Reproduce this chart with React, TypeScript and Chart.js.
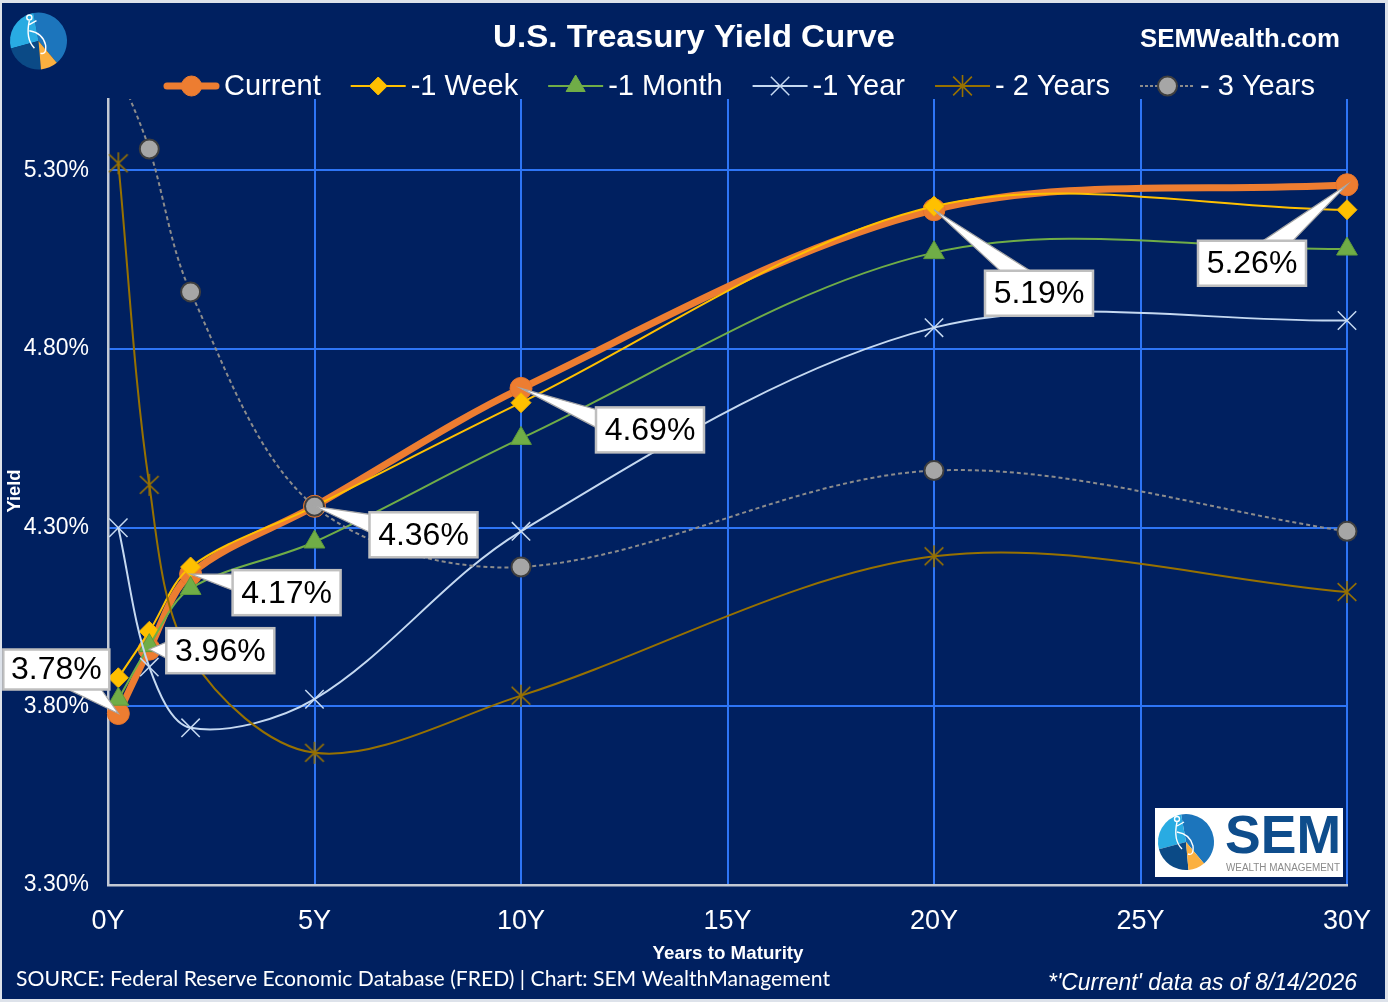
import React, { useEffect, useRef } from 'react';
import { Chart, registerables } from 'chart.js';

Chart.register(...registerables);

// ---------- DATA ----------
const maturities = [0.25, 1, 2, 5, 10, 20, 30];
const current = [3.78, 3.96, 4.17, 4.36, 4.69, 5.19, 5.26];
const oneWeek = [3.88, 4.01, 4.19, 4.36, 4.65, 5.2, 5.19];
const oneMonth = [3.82, 3.97, 4.13, 4.26, 4.55, 5.07, 5.08];
const oneYear = [4.3, 3.91, 3.74, 3.82, 4.29, 4.86, 4.88];
const twoYears = [5.32, 4.42, 3.94, 3.67, 3.83, 4.22, 4.12];
const threeYears = [5.58, 5.36, 4.96, 4.36, 4.19, 4.46, 4.29];
const seriesNames = ['Current', '-1 Week', '-1 Month', '-1 Year', '- 2 Years', '- 3 Years'];
const xTickValues = [0, 5, 10, 15, 20, 25, 30];
const yTickValues = [3.3, 3.8, 4.3, 4.8, 5.3];

// ---------- STYLE ----------
const NAVY = '#002060';
const GRID = '#2E75F6';
const AXIS = '#C3C9D4';
const FONT = '"Liberation Sans", Arial, sans-serif';
const C_CURRENT = '#ED7D31';
const C_WEEK = '#FFC000';
const C_MONTH = '#70AD47';
const C_YEAR = '#C5D9F1';
const C_2Y = '#977100';
const C_3Y_LINE = '#8C8C8C';

// callout layout (pixels relative to point): dx, dy, w, h, base1x, base1y, base2x, base2y
const calloutLayout = [
  [-115, -64, 106, 40, 65, 40, 98, 40],
  [17, -21, 108, 45, 0, 14, 0, 30],
  [42, -4, 108, 45, 0, 4, 0, 20],
  [55, 6, 108, 45, 0, 2, 0, 20],
  [75, 19, 108, 45, 0, 2, 0, 20],
  [51, 61, 108, 45, 15, 0, 45, 0],
  [-149, 56, 108, 45, 65, 0, 95, 0],
];

function makeAsterisk(color: string, r: number, lw: number) {
  const c = document.createElement('canvas');
  const s = Math.ceil(r * 2 + lw * 2 + 2);
  c.width = s;
  c.height = s;
  const g = c.getContext('2d')!;
  g.strokeStyle = color;
  g.lineWidth = lw;
  const cx = s / 2;
  const d = r * 0.85;
  g.beginPath();
  g.moveTo(cx, cx - r);
  g.lineTo(cx, cx + r);
  g.moveTo(cx - d, cx - d * 0.95);
  g.lineTo(cx + d, cx + d * 0.95);
  g.moveTo(cx + d, cx - d * 0.95);
  g.lineTo(cx - d, cx + d * 0.95);
  g.stroke();
  return c;
}

function drawMarker(ctx: CanvasRenderingContext2D, type: string, x: number, y: number, r: number, fill: string, stroke: string, lw: number) {
  ctx.save();
  ctx.beginPath();
  if (type === 'circle') {
    ctx.arc(x, y, r, 0, Math.PI * 2);
  } else if (type === 'rectRot') {
    ctx.moveTo(x - r, y);
    ctx.lineTo(x, y - r);
    ctx.lineTo(x + r, y);
    ctx.lineTo(x, y + r);
    ctx.closePath();
  } else if (type === 'triangle') {
    const h = r * 1.5;
    ctx.moveTo(x, y - h / 2 - r / 4);
    ctx.lineTo(x + r * 0.866, y + h / 2 - r / 4);
    ctx.lineTo(x - r * 0.866, y + h / 2 - r / 4);
    ctx.closePath();
  } else if (type === 'crossRot') {
    const d = r * 0.707;
    ctx.moveTo(x - d, y - d);
    ctx.lineTo(x + d, y + d);
    ctx.moveTo(x + d, y - d);
    ctx.lineTo(x - d, y + d);
  } else if (type === 'asterisk') {
    const d = r * 0.85;
    ctx.moveTo(x, y - r);
    ctx.lineTo(x, y + r);
    ctx.moveTo(x - d, y - d);
    ctx.lineTo(x + d, y + d);
    ctx.moveTo(x + d, y - d);
    ctx.lineTo(x - d, y + d);
  }
  if (fill) {
    ctx.fillStyle = fill;
    ctx.fill();
  }
  if (stroke && lw > 0) {
    ctx.strokeStyle = stroke;
    ctx.lineWidth = lw;
    ctx.stroke();
  }
  ctx.restore();
}

function drawFit(ctx: CanvasRenderingContext2D, text: string, x: number, y: number, font: string, targetW: number, align: string, color: string) {
  ctx.save();
  ctx.font = font;
  const w = ctx.measureText(text).width;
  const sx = targetW ? targetW / w : 1;
  const tw = w * sx;
  const left = align === 'left' ? x : align === 'center' ? x - tw / 2 : x - tw;
  ctx.fillStyle = color;
  ctx.textBaseline = 'middle';
  ctx.textAlign = 'left';
  ctx.translate(left, y);
  ctx.scale(sx, 1);
  ctx.fillText(text, 0, 0);
  ctx.restore();
}

function drawLogo(ctx: CanvasRenderingContext2D, cx: number, cy: number, r: number) {
  const seg = (a0: number, a1: number, color: string) => {
    ctx.beginPath();
    ctx.moveTo(cx, cy);
    ctx.arc(cx, cy, r, (a0 * Math.PI) / 180, (a1 * Math.PI) / 180);
    ctx.closePath();
    ctx.fillStyle = color;
    ctx.fill();
  };
  ctx.save();
  seg(-100, 50, '#1C75BC');
  seg(165, 260, '#29ABE2');
  seg(85, 165, '#0B4A86');
  seg(50, 85, '#FBB040');
  const k = r / 28;
  ctx.strokeStyle = '#ffffff';
  ctx.lineWidth = 1.4 * k;
  ctx.beginPath();
  ctx.arc(cx - 9 * k, cy - 23 * k, 2.5 * k, 0, Math.PI * 2);
  ctx.stroke();
  ctx.beginPath();
  ctx.moveTo(cx - 9 * k, cy - 20 * k);
  ctx.quadraticCurveTo(cx - 13 * k, cy - 2 * k, cx - 4 * k, cy + 7 * k);
  ctx.moveTo(cx - 9 * k, cy - 10 * k);
  ctx.quadraticCurveTo(cx + 4 * k, cy - 8 * k, cx + 7 * k, cy + 4 * k);
  ctx.quadraticCurveTo(cx + 8 * k, cy + 14 * k, cx + 2 * k, cy + 12 * k);
  ctx.moveTo(cx - 9 * k, cy - 16 * k);
  ctx.lineTo(cx - 2 * k, cy - 20 * k);
  ctx.stroke();
  ctx.restore();
}

const legendStyles = [
  { type: 'circle', color: C_CURRENT, lineW: 7, r: 10, fill: C_CURRENT, stroke: C_CURRENT, lw: 1, dash: [] as number[] },
  { type: 'rectRot', color: C_WEEK, lineW: 2, r: 9, fill: C_WEEK, stroke: C_WEEK, lw: 1, dash: [] as number[] },
  { type: 'triangle', color: C_MONTH, lineW: 2, r: 11, fill: C_MONTH, stroke: C_MONTH, lw: 1, dash: [] as number[] },
  { type: 'crossRot', color: C_YEAR, lineW: 2, r: 13, fill: '', stroke: C_YEAR, lw: 1.5, dash: [] as number[] },
  { type: 'asterisk', color: C_2Y, lineW: 2, r: 11, fill: '', stroke: C_2Y, lw: 1.6, dash: [] as number[] },
  { type: 'circle', color: C_3Y_LINE, lineW: 2, r: 9.5, fill: '#A6A6A6', stroke: '#3F3F3F', lw: 2, dash: [3, 2] },
];

const decorPlugin = {
  id: 'decor',
  beforeDraw(chart: any) {
    const { ctx, width, height } = chart;
    ctx.save();
    ctx.fillStyle = '#DDE2EA';
    ctx.fillRect(0, 0, width, height);
    ctx.fillStyle = NAVY;
    ctx.fillRect(2, 3, width - 5, height - 6);
    ctx.restore();
  },
  afterDraw(chart: any) {
    const ctx: CanvasRenderingContext2D = chart.ctx;
    drawFit(ctx, 'U.S. Treasury Yield Curve', 694, 38, `bold 32px ${FONT}`, 402, 'center', '#ffffff');
    drawFit(ctx, 'SEMWealth.com', 1340, 40, `bold 25px ${FONT}`, 200, 'right', '#ffffff');
    drawLogo(ctx, 38.5, 41, 28.5);

    // legend
    ctx.save();
    ctx.font = `29px ${FONT}`;
    let x = 164;
    const ly = 86;
    const lineLen = 55;
    seriesNames.forEach((name, i) => {
      const st = legendStyles[i];
      ctx.save();
      ctx.strokeStyle = st.color;
      ctx.lineWidth = st.lineW;
      ctx.lineCap = i === 0 ? 'round' : 'butt';
      ctx.setLineDash(st.dash);
      ctx.beginPath();
      ctx.moveTo(x + (i === 0 ? 3 : 0), ly);
      ctx.lineTo(x + lineLen - (i === 0 ? 3 : 0), ly);
      ctx.stroke();
      ctx.restore();
      drawMarker(ctx, st.type, x + lineLen / 2, ly, st.r, st.fill, st.stroke, st.lw);
      ctx.fillStyle = '#ffffff';
      ctx.textAlign = 'left';
      ctx.textBaseline = 'middle';
      ctx.fillText(name, x + lineLen + 5, ly + 1);
      x += lineLen + 5 + ctx.measureText(name).width + 30;
    });
    ctx.restore();

    // axis titles
    drawFit(ctx, 'Years to Maturity', 728, 954, `bold 19px ${FONT}`, 151, 'center', '#ffffff');
    ctx.save();
    ctx.translate(15, 491);
    ctx.rotate(-Math.PI / 2);
    drawFit(ctx, 'Yield', 0, 0, `bold 19px ${FONT}`, 43, 'center', '#ffffff');
    ctx.restore();

    // footers
    drawFit(ctx, 'SOURCE: Federal Reserve Economic Database (FRED) | Chart: SEM WealthManagement', 16, 979, `21px Lato, "Open Sans", sans-serif`, 814, 'left', '#ffffff');
    drawFit(ctx, "*'Current' data as of 8/14/2026", 1357, 984, `italic 23px ${FONT}`, 309, 'right', '#ffffff');

    // bottom-right logo box
    ctx.save();
    ctx.fillStyle = '#ffffff';
    ctx.fillRect(1155, 808, 188, 69);
    ctx.restore();
    drawLogo(ctx, 1186, 842, 28);
    drawFit(ctx, 'SEM', 1225, 838, `bold 54px ${FONT}`, 116, 'left', '#0E4D8C');
    drawFit(ctx, 'WEALTH MANAGEMENT', 1226, 868, `10px ${FONT}`, 114, 'left', '#8A8A8A');

    // callouts for current series
    const meta = chart.getDatasetMeta(chart.data.datasets.length - 1);
    meta.data.forEach((pt: any, i: number) => {
      const [dx, dy, w, h, b1x, b1y, b2x, b2y] = calloutLayout[i];
      const px = pt.x;
      const py = pt.y;
      const bx = px + dx;
      const by = py + dy;
      ctx.save();
      ctx.beginPath();
      ctx.moveTo(px, py);
      ctx.lineTo(bx + b1x, by + b1y);
      ctx.lineTo(bx + b2x, by + b2y);
      ctx.closePath();
      ctx.fillStyle = '#ffffff';
      ctx.fill();
      ctx.strokeStyle = '#A6A6A6';
      ctx.lineWidth = 1.2;
      ctx.stroke();
      ctx.fillStyle = '#ffffff';
      ctx.fillRect(bx, by, w, h);
      ctx.strokeStyle = '#BFBFBF';
      ctx.lineWidth = 2.5;
      ctx.strokeRect(bx, by, w, h);
      ctx.fillStyle = '#000000';
      ctx.font = `32px ${FONT}`;
      ctx.textAlign = 'center';
      ctx.textBaseline = 'middle';
      ctx.fillText(`${current[i].toFixed(2)}%`, bx + w / 2, by + h / 2 + 1);
      ctx.restore();
    });
  },
};

export default function App() {
  const ref = useRef<HTMLCanvasElement>(null);
  useEffect(() => {
    document.body.style.margin = '0';
    const mk = (arr: number[]) => maturities.map((m, i) => ({ x: m, y: arr[i] }));
    const asterisk = makeAsterisk(C_2Y, 11, 1.6);
    const transparent = 'rgba(0,0,0,0)';
    const clip = { left: 20, top: 0, right: 20, bottom: 20 };
    const chart = new Chart(ref.current!, {
      type: 'line',
      data: {
        datasets: [
          {
            label: seriesNames[5], data: mk(threeYears), borderColor: C_3Y_LINE, borderWidth: 2, borderDash: [4, 3], clip,
            pointStyle: 'circle', pointRadius: 9.5, pointBackgroundColor: '#A6A6A6', pointBorderColor: '#3F3F3F', pointBorderWidth: 2, tension: 0.33,
          },
          {
            label: seriesNames[4], data: mk(twoYears), borderColor: C_2Y, borderWidth: 2, clip,
            pointStyle: asterisk as any, pointRadius: 11, tension: 0.33,
          },
          {
            label: seriesNames[3], data: mk(oneYear), borderColor: C_YEAR, borderWidth: 2, clip,
            pointStyle: 'crossRot', pointRadius: 13, pointBorderColor: C_YEAR, pointBorderWidth: 1.5, tension: 0.33,
          },
          {
            label: seriesNames[2], data: mk(oneMonth), borderColor: C_MONTH, borderWidth: 2, clip,
            pointStyle: 'triangle', pointRadius: 12, pointBackgroundColor: C_MONTH, pointBorderColor: '#5E9A3A', pointBorderWidth: 1, tension: 0.33,
          },
          {
            label: seriesNames[1], data: mk(oneWeek), borderColor: C_WEEK, borderWidth: 2, clip,
            pointStyle: 'rectRot', pointRadius: 10, pointBackgroundColor: C_WEEK, pointBorderColor: '#F2B200', pointBorderWidth: 1, tension: 0.33,
          },
          {
            label: seriesNames[0], data: mk(current), borderColor: C_CURRENT, borderWidth: 7, clip,
            pointStyle: 'circle', pointRadius: 11, pointBackgroundColor: C_CURRENT, pointBorderColor: '#E8742A', pointBorderWidth: 1, tension: 0.33,
          },
        ] as any,
      },
      options: {
        animation: false,
        responsive: false,
        events: [],
        layout: { autoPadding: false, padding: { top: 99, right: 41, left: 0, bottom: 0 } },
        elements: { line: { capBezierPoints: false } as any },
        plugins: { legend: { display: false }, title: { display: false }, tooltip: { enabled: false } },
        scales: {
          x: {
            type: 'linear',
            min: 0,
            max: 30,
            afterBuildTicks: (s: any) => { s.ticks = xTickValues.map((v) => ({ value: v })); },
            afterFit: (s: any) => { s.height = 117; s.paddingLeft = 0; s.paddingRight = 0; },
            ticks: {
              color: '#ffffff', font: { family: FONT, size: 27 }, padding: 20, maxRotation: 0, autoSkip: false,
              callback: (v: any) => `${v}Y`,
            },
            grid: {
              color: (c: any) => (c.tick && c.tick.value === 0 ? transparent : GRID),
              lineWidth: 2, drawTicks: false,
            },
            border: { color: AXIS, width: 2.5 },
          },
          y: {
            type: 'linear',
            min: 3.3,
            max: 5.5,
            afterBuildTicks: (s: any) => { s.ticks = yTickValues.map((v) => ({ value: v })); },
            afterFit: (s: any) => { s.width = 108; s.paddingTop = 0; s.paddingBottom = 0; },
            ticks: {
              color: '#ffffff', font: { family: FONT, size: 23 }, padding: 19,
              callback: (v: any) => `${Number(v).toFixed(2)}%`,
            },
            grid: {
              color: (c: any) => (c.tick && Math.abs(c.tick.value - 3.3) < 1e-6 ? transparent : GRID),
              lineWidth: 2, drawTicks: false,
            },
            border: { color: AXIS, width: 2.5 },
          },
        },
      },
      plugins: [decorPlugin],
    });
    return () => chart.destroy();
  }, []);
  return (
    <div style={{ position: 'absolute', left: 0, top: 0, width: 1388, height: 1002 }}>
      <canvas ref={ref} width={1388} height={1002} style={{ display: 'block', width: 1388, height: 1002 }} />
    </div>
  );
}
